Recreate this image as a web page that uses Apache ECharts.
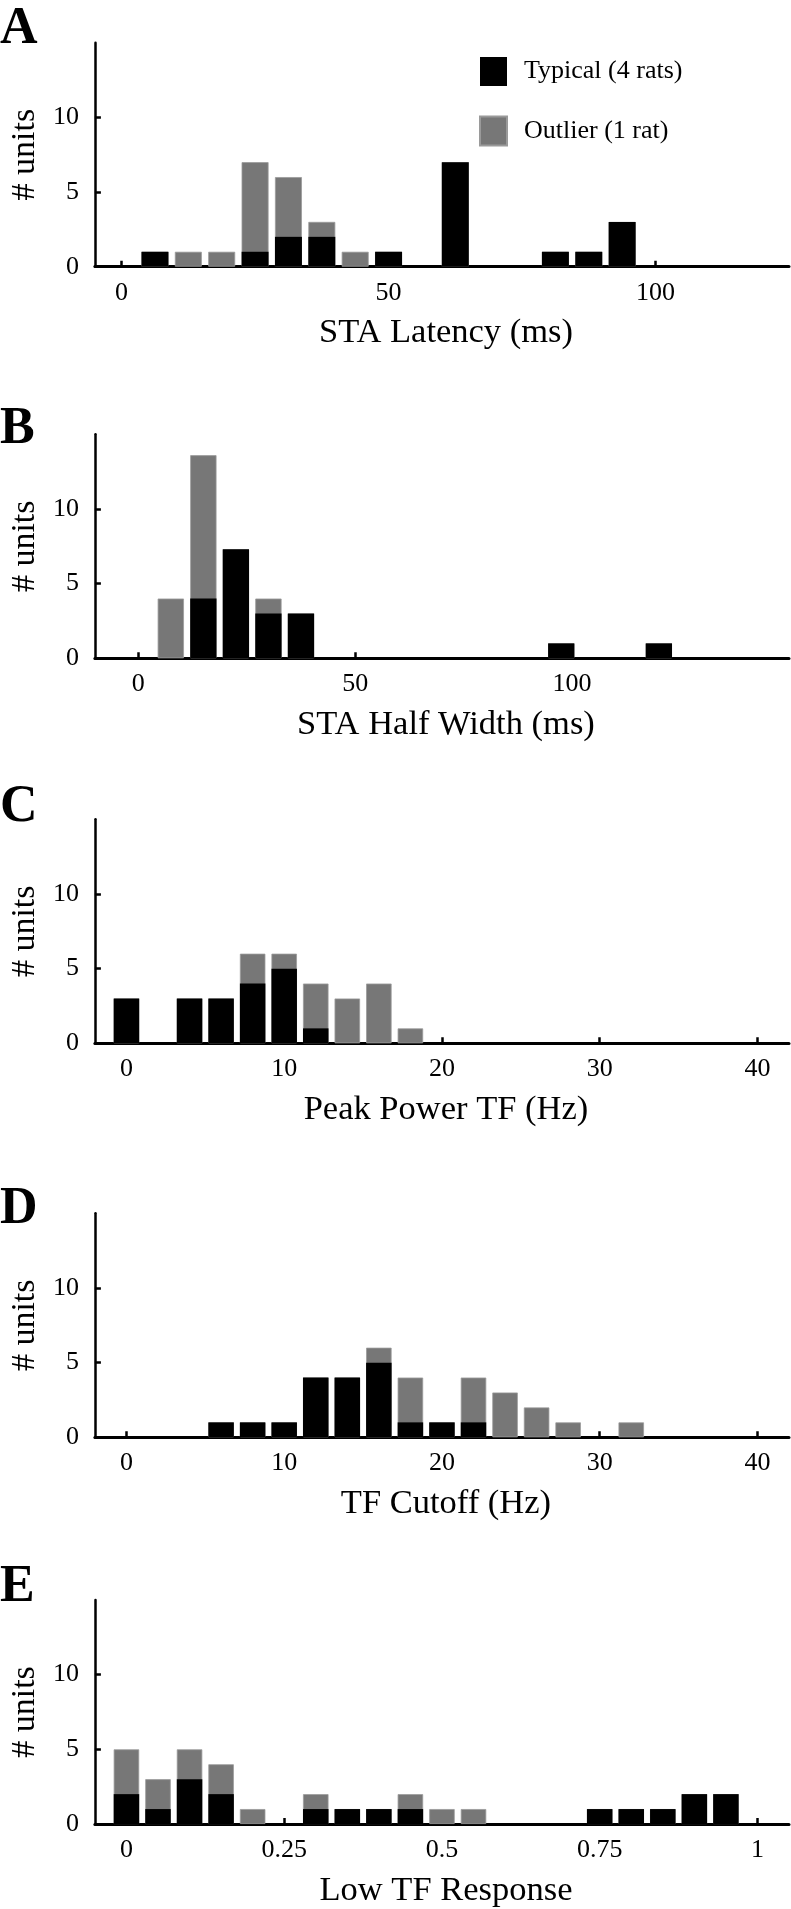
<!DOCTYPE html>
<html><head><meta charset="utf-8">
<script src="https://cdn.jsdelivr.net/npm/echarts@6/dist/echarts.min.js"></script>
<style>html,body{margin:0;padding:0;background:#fff}#c{width:791px;height:1909px}</style>
</head><body><div id="c"></div>
<script>
// ---------- data ----------
const seriesNames = ['Typical (4 rats)', 'Outlier (1 rat)'];
const panelLetters = ['A', 'B', 'C', 'D', 'E'];
const axisTitles = ['STA Latency (ms)', 'STA Half Width (ms)', 'Peak Power TF (Hz)', 'TF Cutoff (Hz)', 'Low TF Response'];
const yTickValues = [0, 5, 10];

// A: STA latency
const latencyBins     = [6.25, 12.5, 18.75, 25, 31.25, 37.5, 43.75, 50, 62.5, 81.25, 87.5, 93.75];
const latencyTypical  = [1, 0, 0, 1, 2, 2, 0, 1, 7, 1, 1, 3];
const latencyOutlier  = [0, 1, 1, 6, 4, 1, 1, 0, 0, 0, 0, 0];
const latencyTicks    = [0, 50, 100];

// B: STA half width
const halfWidthBins    = [7.5, 15, 22.5, 30, 37.5, 97.5, 120];
const halfWidthTypical = [0, 4, 7.3, 3, 3, 1, 1];
const halfWidthOutlier = [4, 9.6, 0, 1, 0, 0, 0];
const halfWidthTicks   = [0, 50, 100];

// C: peak power TF
const peakBins    = [0, 4, 6, 8, 10, 12, 14, 16, 18];
const peakTypical = [3, 3, 3, 4, 5, 1, 0, 0, 0];
const peakOutlier = [0, 0, 0, 2, 1, 3, 3, 4, 1];
const peakTicks   = [0, 10, 20, 30, 40];

// D: TF cutoff
const cutoffBins    = [6, 8, 10, 12, 14, 16, 18, 20, 22, 24, 26, 28, 32];
const cutoffTypical = [1, 1, 1, 4, 4, 5, 1, 1, 1, 0, 0, 0, 0];
const cutoffOutlier = [0, 0, 0, 0, 0, 1, 3, 0, 3, 3, 2, 1, 1];
const cutoffTicks   = [0, 10, 20, 30, 40];

// E: low TF response
const lowTfBins    = [0, 0.05, 0.1, 0.15, 0.2, 0.3, 0.35, 0.4, 0.45, 0.5, 0.55, 0.75, 0.8, 0.85, 0.9, 0.95];
const lowTfTypical = [2, 1, 3, 2, 0, 1, 1, 1, 1, 0, 0, 1, 1, 1, 2, 2];
const lowTfOutlier = [3, 2, 2, 2, 1, 1, 0, 0, 1, 1, 1, 0, 0, 0, 0, 0];
const lowTfTicks   = [0, 0.25, 0.5, 0.75, 1];

const binWidths = [6.25, 7.5, 2, 2, 0.05];
const xRanges = [[-5, 125], [-10, 150], [-2, 42], [-2, 42], [-0.05, 1.05]];

// ---------- layout ----------
const FONT = '"Liberation Serif", "Times New Roman", serif';
const GRID_LEFT = 88, GRID_RIGHT = 2, GRID_H = 224;
const gridTops = [42.7, 434.3, 819.3, 1213.3, 1600];
const letterTops = [4, 403.7, 782, 1183.7, 1562];
const PLOT_W = 791 - GRID_LEFT - GRID_RIGHT;

const panels = [
  [latencyBins, latencyTypical, latencyOutlier, latencyTicks],
  [halfWidthBins, halfWidthTypical, halfWidthOutlier, halfWidthTicks],
  [peakBins, peakTypical, peakOutlier, peakTicks],
  [cutoffBins, cutoffTypical, cutoffOutlier, cutoffTicks],
  [lowTfBins, lowTfTypical, lowTfOutlier, lowTfTicks]
];

const grid = [], xAxis = [], yAxis = [], series = [], graphic = [];
panels.forEach(([bins, typ, out, ticks], i) => {
  const [mn, mx] = xRanges[i];
  const barW = 0.8 * binWidths[i] * PLOT_W / (mx - mn);
  grid.push({ left: GRID_LEFT, right: GRID_RIGHT, top: gridTops[i], height: GRID_H });
  xAxis.push({
    type: 'value', gridIndex: i, min: mn, max: mx,
    axisLine: { show: true, onZero: false, lineStyle: { color: '#000', width: 3 } },
    axisTick: { show: true, inside: true, length: 6, lineStyle: { color: '#000', width: 2.5 }, customValues: ticks },
    axisLabel: { customValues: ticks, margin: 13, fontSize: 26, fontFamily: FONT, color: '#000' },
    splitLine: { show: false },
    name: axisTitles[i], nameLocation: 'middle', nameGap: 49,
    nameTextStyle: { fontSize: 34.5, fontFamily: FONT, color: '#000', padding: [0, 0, 0, 8] }
  });
  yAxis.push({
    type: 'value', gridIndex: i, min: 0, max: 15,
    axisLine: { show: true, onZero: false, lineStyle: { color: '#000', width: 2.5 } },
    axisTick: { show: true, inside: true, length: 6, lineStyle: { color: '#000', width: 2.5 }, customValues: yTickValues },
    axisLabel: { customValues: yTickValues, margin: 16, fontSize: 26, fontFamily: FONT, color: '#000' },
    splitLine: { show: false },
    name: '# units', nameLocation: 'middle', nameGap: 51, nameRotate: 90,
    nameTextStyle: { fontSize: 34, fontFamily: FONT, color: '#000' }
  });
  series.push({
    type: 'bar', name: seriesNames[1], xAxisIndex: i, yAxisIndex: i,
    data: bins.map((x, k) => [x, typ[k] + out[k]]),
    barWidth: barW, barGap: '-100%', silent: true,
    itemStyle: { color: '#777777', borderColor: '#9a9a9a', borderWidth: 0.8 }
  });
  series.push({
    type: 'bar', name: seriesNames[0], xAxisIndex: i, yAxisIndex: i,
    data: bins.map((x, k) => [x, typ[k]]),
    barWidth: barW, barGap: '-100%', silent: true,
    itemStyle: { color: '#000000' }
  });
  graphic.push({
    type: 'text', left: 0, top: letterTops[i],
    style: { text: panelLetters[i], font: 'bold 52px ' + FONT, fill: '#000' }
  });
});

const chart = echarts.init(document.getElementById('c'), null, { renderer: 'canvas' });
chart.setOption({
  animation: false,
  backgroundColor: '#fff',
  legend: {
    data: seriesNames, orient: 'vertical', left: 479, top: 57, padding: 0,
    itemWidth: 27, itemHeight: 29, itemGap: 29.4, icon: 'rect', selectedMode: false,
    textStyle: { fontSize: 26, fontFamily: FONT, color: '#000', padding: [0, 0, 0, 12] }
  },
  grid, xAxis, yAxis, series, graphic
});
</script></body></html>
